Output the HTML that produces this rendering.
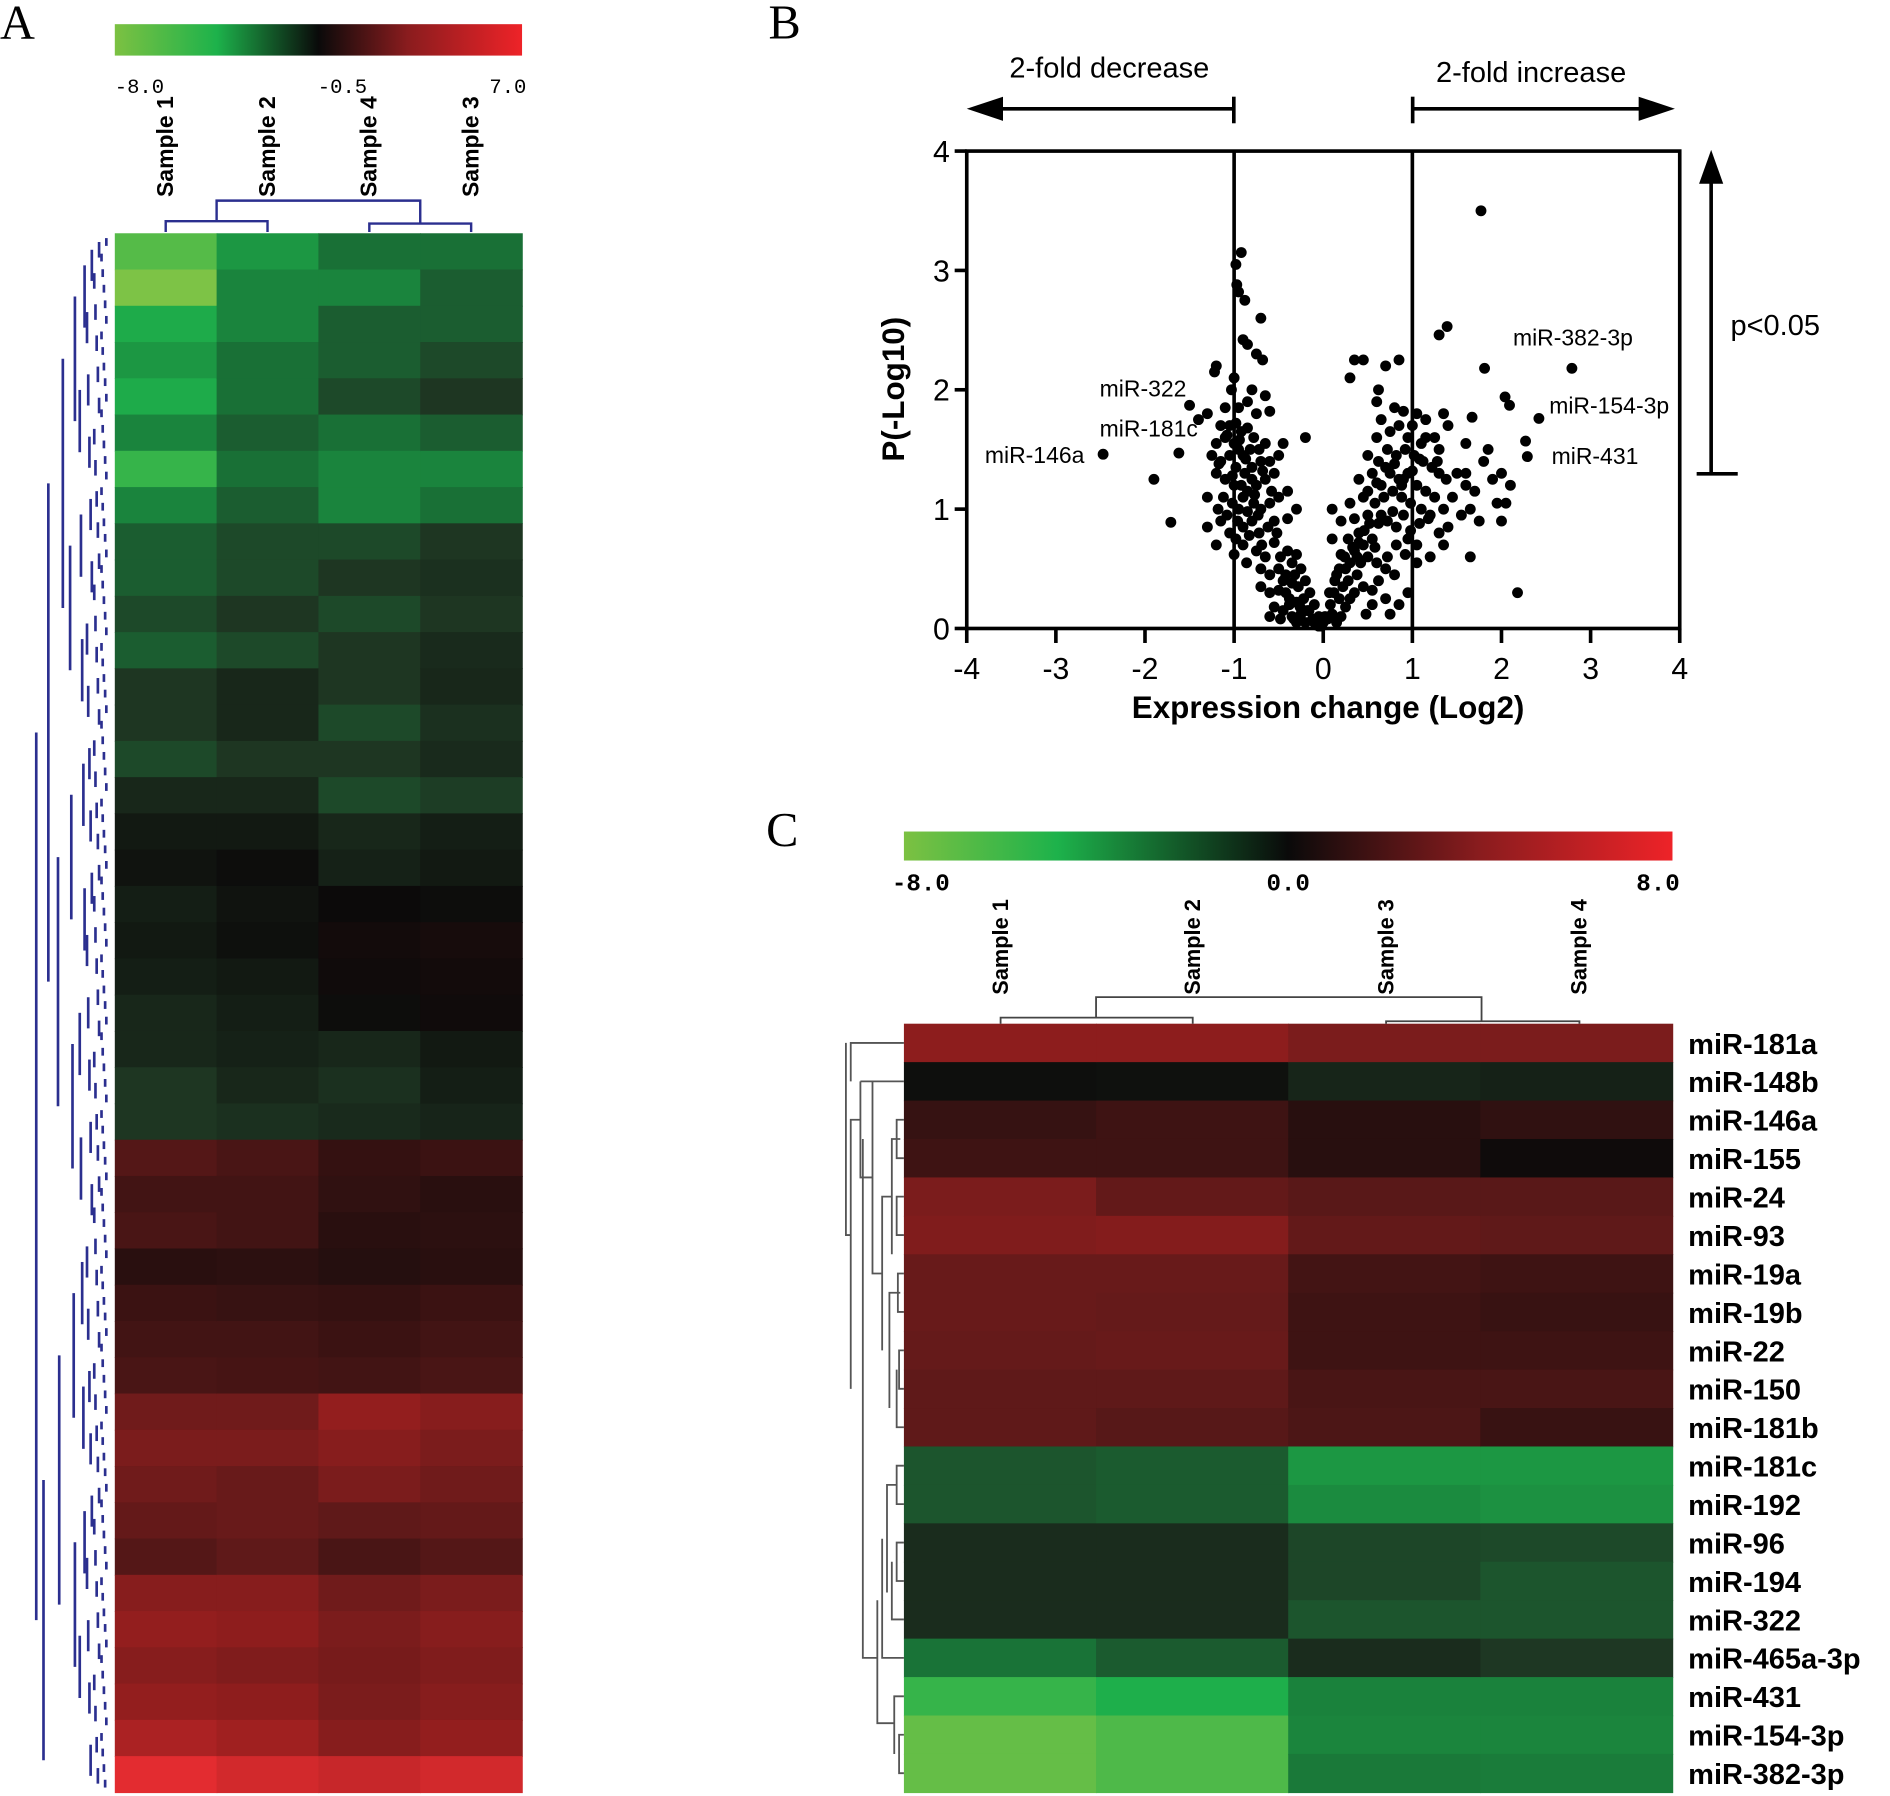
<!DOCTYPE html>
<html><head><meta charset="utf-8"><style>
html,body{margin:0;padding:0;background:#fff;}
svg{display:block;font-family:"Liberation Sans",Arial,sans-serif;}
</style></head><body>
<svg id="fig" width="1890" height="1796" viewBox="0 0 1564 1486" preserveAspectRatio="none" xmlns="http://www.w3.org/2000/svg">
<defs>
<linearGradient id="gA" x1="0" x2="1" y1="0" y2="0">
<stop offset="0" stop-color="#7cc142"/><stop offset="0.25" stop-color="#1db24b"/><stop offset="0.5" stop-color="#0a0a0a"/><stop offset="0.72" stop-color="#8a1c1e"/><stop offset="1" stop-color="#ee2328"/>
</linearGradient>
<linearGradient id="gC" x1="0" x2="1" y1="0" y2="0">
<stop offset="0" stop-color="#7cc142"/><stop offset="0.2" stop-color="#1db24b"/><stop offset="0.5" stop-color="#0a0a0a"/><stop offset="0.75" stop-color="#8a1c1e"/><stop offset="1" stop-color="#ee2328"/>
</linearGradient>
</defs>
<text x="0" y="32" font-family="Liberation Serif,serif" font-size="40">A</text>
<text x="636" y="32" font-family="Liberation Serif,serif" font-size="40">B</text>
<text x="634" y="700" font-family="Liberation Serif,serif" font-size="40">C</text>
<g id="A"></g>
<g id="B"></g>
<g id="C"></g>
</svg>
<script>
// ---------- Panel A data ----------
const aSamples = ["Sample 1","Sample 2","Sample 4","Sample 3"];
const aCol1 = [-6,-7,-5,-4.5,-5,-4,-5.5,-4,-3,-3,-2.5,-3,-2,-2,-2.5,-1.5, -1,-0.8,-1.2,-1,-1.2,-1.5,-1.5,-2,-2, 1.5,1,1.2,0.3,0.8,1,1.2, 2.5,3,2.5,2,1.5,3.5,4,3.5,4,4.5,5.5];
const aCol2 = [-4.5,-4,-4,-3.5,-3.5,-3,-3.5,-3,-2.5,-2.5,-2,-2.5,-1.5,-1.5,-2,-1.5, -1,-0.6,-0.8,-0.7,-1,-1.2,-1.3,-1.5,-1.8, 1.2,1,1,0.4,0.7,1,1.1, 2.5,3,2.2,2.2,1.8,3.5,3.8,3.2,3.8,4.3,5.2];
const aCol3 = [-3.5,-4,-3,-3,-2.5,-3.5,-4,-4,-2.5,-2,-2.5,-2,-2,-2.5,-2,-2.5, -1.5,-1.3,-0.5,-0.3,-0.4,-0.6,-1.5,-1.8,-1.6, 0.6,0.5,0.3,0.2,0.6,0.8,1, 4,3.5,3,1.8,1.2,2.5,3,2.8,3,3.5,5];
const aCol4 = [-3.5,-3,-3,-2.5,-2,-3,-4,-3.5,-2,-1.8,-2,-1.6,-1.5,-1.8,-1.6,-2.2, -1.2,-1,-0.6,-0.2,-0.3,-0.4,-1,-1.2,-1.4, 0.8,0.3,0.4,0.3,0.8,1,1.2, 3.5,3,2.5,2,1.5,3,3.5,3.2,3.5,4,5.2];
const aScaleTicks = ["-8.0","-0.5","7.0"];
// ---------- Panel B data ----------
const volcanoX = [-0.98,-0.92,-0.97,-0.95,-0.88,-0.7,-0.9,-0.85,-0.75,-0.68,-1.2,-1.22,-1.0,-1.03,-0.8,-0.65,-1.1,-0.95,-0.85,-0.75,-0.6,-1.3,-1.4,
-1.15,-1.05,-0.98,-0.92,-0.85,-0.78,-1.2,-1.1,-1.0,-0.95,-0.9,-0.82,-0.72,-0.65,-1.25,-1.15,-1.05,-0.98,-0.88,-0.8,-0.7,-0.6,-0.5,-0.45,-1.2,-1.1,-1.0,-0.92,-0.85,-0.75,-0.65,-0.55,-0.5,-1.12,-1.02,-0.95,-0.85,-0.78,-0.7,-0.6,-1.3,-1.3,-1.15,-1.05,-0.9,-0.8,-0.72,-0.62,-0.55,-1.2,-1.0,-0.9,-0.4,-0.3,-0.4,
-0.75,-0.65,-0.55,-0.48,-0.7,-0.6,-0.5,-0.42,-0.35,-0.3,-0.25,-0.7,-0.6,-0.5,-0.42,-0.35,-0.28,-0.2,-0.55,-0.45,-0.38,-0.3,-0.22,-0.15,-0.6,-0.48,-0.35,-0.25,-0.18,-0.1,-0.3,-0.2,-0.12,-0.05,-0.08,-0.02,0.0,
0.05,0.1,0.08,0.15,0.2,0.18,0.12,0.25,0.3,0.22,0.28,0.35,0.15,0.25,0.38,0.3,0.45,0.42,0.2,0.35,0.5,0.1,0.28,0.4,0.55,0.6,0.7,0.8,0.85,0.7,0.55,0.75,0.48,0.2,0.35,0.5,0.62,0.72,0.82,0.9,0.95,1.05,0.1,0.3,0.45,0.58,0.68,0.78,0.88,0.98,1.1,1.2,0.4,0.55,0.65,0.75,0.85,0.95,1.05,1.15,1.25,1.35,0.5,0.62,0.72,0.82,0.92,1.02,1.12,1.22,1.3,0.6,0.75,0.85,0.95,1.05,1.15,1.25,0.8,0.65,0.9,0.7,0.62,0.85,0.6,1.0,1.1,0.35,0.45,0.3,-0.2,1.5,1.45,1.38,1.6,1.7,1.55,1.4,1.65,1.75,1.65,1.3,1.2,1.35,0.95,1.05,1.8,1.9,2.0,1.95,2.05,2.1,1.4,1.3,1.35,1.6,1.85,2.0,1.6,
-1.08,-0.94,-0.87,-0.8,-1.17,-1.02,-0.9,-0.77,-0.68,-1.08,-0.96,-0.83,-0.73,-0.58,-1.18,-0.98,-0.86,-0.69,-0.52,-0.45,-0.38,-0.32,-0.26,-0.4,-0.33,-0.16,-0.1,-0.05,0.02,0.07,0.13,0.18,0.24,0.33,0.4,0.46,0.52,0.58,0.65,0.78,0.88,0.5,0.6,0.7,0.8,0.9,1.0,1.08,1.15,0.92,0.82,0.72,0.62,0.55,0.98,1.08,1.18,1.28,0.45,0.38,
-2.47,-1.9,-1.71,-1.5,-1.62,1.77,1.39,1.3,2.79,1.81,2.04,2.09,2.42,2.27,2.29,2.18,1.67];
const volcanoY = [3.05,3.15,2.88,2.82,2.75,2.6,2.42,2.38,2.3,2.25,2.2,2.15,2.1,2.0,2.0,1.95,1.85,1.85,1.9,1.8,1.82,1.8,1.75,
1.7,1.7,1.72,1.65,1.68,1.6,1.55,1.6,1.55,1.5,1.45,1.5,1.5,1.55,1.45,1.4,1.45,1.35,1.3,1.35,1.4,1.4,1.45,1.55,1.3,1.25,1.2,1.2,1.15,1.2,1.25,1.3,1.1,1.1,1.05,1.0,0.98,1.05,1.0,1.05,1.1,0.85,0.9,0.8,0.85,0.9,0.8,0.85,0.9,0.7,0.62,0.7,0.92,1.0,1.15,
0.65,0.6,0.72,0.6,0.5,0.45,0.5,0.45,0.55,0.62,0.5,0.35,0.3,0.32,0.3,0.38,0.35,0.4,0.18,0.15,0.2,0.22,0.25,0.3,0.1,0.08,0.1,0.12,0.15,0.2,0.05,0.05,0.08,0.1,0.03,0.02,0.05,
0.08,0.12,0.2,0.05,0.1,0.25,0.3,0.18,0.25,0.35,0.4,0.3,0.45,0.5,0.45,0.55,0.35,0.55,0.62,0.65,0.6,0.75,0.75,0.8,0.75,0.55,0.5,0.45,0.2,0.25,0.2,0.12,0.12,0.9,0.92,0.95,0.88,0.9,0.85,0.95,0.75,0.7,1.0,1.05,1.1,1.05,1.1,1.15,1.1,1.05,1.0,0.95,1.25,1.3,1.2,1.3,1.25,1.3,1.2,1.15,1.1,1.0,1.45,1.4,1.5,1.45,1.5,1.45,1.4,1.35,1.3,1.6,1.65,1.7,1.6,1.8,1.75,1.6,1.85,1.75,1.82,2.2,2.0,2.25,1.9,1.7,1.55,2.25,2.25,2.1,1.6,1.3,1.1,1.25,1.2,1.15,0.95,0.85,1.0,0.9,0.6,0.8,0.6,0.7,0.3,0.55,1.4,1.25,1.3,1.05,1.05,1.2,1.7,1.5,1.8,1.55,1.5,0.9,1.3,
1.62,1.58,1.42,1.25,1.38,1.28,1.1,1.12,1.32,0.95,0.9,0.78,0.95,1.15,1.0,0.75,0.55,0.7,0.8,0.4,0.25,0.45,0.18,0.65,0.08,0.15,0.05,0.02,0.1,0.3,0.4,0.5,0.6,0.68,0.72,0.82,0.88,0.68,0.95,0.98,1.2,1.15,1.22,1.35,1.38,1.25,1.32,1.42,1.6,0.62,0.7,0.6,0.4,0.32,0.82,0.88,0.92,1.4,0.7,0.6,
1.46,1.25,0.89,1.87,1.47,3.5,2.53,2.46,2.18,2.18,1.94,1.87,1.76,1.57,1.44,0.3,1.77];
const volcanoXTicks = [-4,-3,-2,-1,0,1,2,3,4];
const volcanoYTicks = [0,1,2,3,4];
// ---------- Panel C data ----------
const cSamples = ["Sample 1","Sample 2","Sample 3","Sample 4"];
const cGenes = ["miR-181a","miR-148b","miR-146a","miR-155","miR-24","miR-93","miR-19a","miR-19b","miR-22","miR-150","miR-181b","miR-181c","miR-192","miR-96","miR-194","miR-322","miR-465a-3p","miR-431","miR-154-3p","miR-382-3p"];
const cS1 = [5.5,-0.2,1.5,1.8,4.5,4.8,3.5,3.5,3.3,3,3,-3,-3,-1.5,-1.5,-1.5,-4,-6.5,-7.5,-7.5];
const cS2 = [5.5,-0.3,1.8,1.8,3.2,5,3.5,3.3,3.5,3,2.7,-3.2,-3.2,-1.5,-1.5,-1.5,-3.2,-6,-7,-7];
const cS3 = [4.5,-1.2,1,1,2.8,3.2,2,1.8,1.8,2.2,2.3,-5.2,-4.8,-2.5,-2.5,-3,-1.5,-4.5,-4.6,-4.2];
const cS4 = [4.5,-1,1.3,0.1,2.8,3,1.8,1.6,1.8,2.2,1.6,-5.2,-5,-2.6,-3,-3,-2,-4.5,-4.6,-4.3];
const cScaleTicks = ["-8.0","0.0","8.0"];

const NS="http://www.w3.org/2000/svg";
function mk(tag,attrs,parent,txt){const e=document.createElementNS(NS,tag);for(const k in attrs)e.setAttribute(k,attrs[k]);if(txt!==undefined)e.textContent=txt;parent.appendChild(e);return e;}
const stops=[[-8,[125,195,70]],[-6,[30,175,75]],[-4,[25,115,55]],[-2,[30,55,35]],[0,[12,10,10]],[3,[95,25,25]],[6,[150,30,30]],[8,[235,45,50]]];
function color(v){v=Math.max(-8,Math.min(8,v));for(let i=0;i<stops.length-1;i++){const a=stops[i],b=stops[i+1];if(v<=b[0]){const t=(v-a[0])/(b[0]-a[0]);const c=a[1].map((x,j)=>Math.round(x+(b[1][j]-x)*t));return `rgb(${c})`;}}return "rgb(235,45,50)";}

// ---------- Panel A ----------
(function(){
const g=document.getElementById('A');
const x0=95,x1=432,y0=193,y1=1483;
const cols=[aCol1,aCol2,aCol3,aCol4];
const cw=(x1-x0)/cols.length, rh=(y1-y0)/aCol1.length;
const bar=mk('rect',{x:95,y:20,width:337,height:26,fill:'url(#gA)'},g);


const tx=[95,263,405];
aScaleTicks.forEach((t,i)=>{const e=mk('text',{x:tx[i],y:77,'font-size':17,'font-family':'Liberation Mono,monospace'},g,t);

});
cols.forEach((col,ci)=>{col.forEach((v,ri)=>{const r=mk('rect',{x:x0+ci*cw,y:y0+ri*rh,width:cw+0.6,height:rh+0.6,fill:color((v+0.5)*1.3)},g);

});});
aSamples.forEach((s,i)=>{const cx=x0+cw*(i+0.5)+6;const t=mk('text',{transform:`translate(${cx},163) rotate(-90)`,'font-size':19,'font-weight':'bold','text-anchor':'start'},g,s);

});
const blue='#2b2f8f';
const cx=i=>x0+cw*(i+0.5);
const d=`M${cx(0)},192V183H${cx(1)}V192 M${cx(2)},192V185H${cx(3)}V192 M${(cx(0)+cx(1))/2},183V166H${(cx(2)+cx(3))/2}V185`;
const cd=mk('path',{d:d,fill:'none',stroke:blue,'stroke-width':2},g);


const rg=mk('g',{stroke:blue,'stroke-width':2.2,fill:'none'},g);


let nodes=[];const n=200;for(let i=0;i<n;i++){nodes.push({y:y0+4+i*(y1-y0-8)/(n-1),x:93});}
const lx=[88,82,76,70,62,52,40,30,20,14];
let lvl=0;
while(nodes.length>1&&lvl<lx.length){const next=[];for(let i=0;i<nodes.length;i+=2){if(i+1<nodes.length){const a=nodes[i],b=nodes[i+1];const X=lx[lvl]-((i*7)%5);mk('path',{d:`M${X},${a.y}V${b.y}`},rg);next.push({y:(a.y+b.y)/2,x:X});}else next.push(nodes[i]);}nodes=next;lvl++;}
})();

// ---------- Panel B ----------
(function(){
const g=document.getElementById('B');
const L=800,R=1390,T=125,Bt=520;
const sx=v=>L+(v+4)/8*(R-L), sy=v=>Bt-v/4*(Bt-T);
const frame=mk('rect',{x:L,y:T,width:R-L,height:Bt-T,fill:'none',stroke:'#000','stroke-width':3},g);


[-1,1].forEach(v=>{const l=mk('line',{x1:sx(v),x2:sx(v),y1:T,y2:Bt,stroke:'#000','stroke-width':3},g);

});
volcanoXTicks.forEach(v=>{mk('line',{x1:sx(v),x2:sx(v),y1:Bt,y2:Bt+12,stroke:'#000','stroke-width':3},g);
const t=mk('text',{x:sx(v),y:Bt+42,'font-size':25,'text-anchor':'middle'},g,String(v));

});
volcanoYTicks.forEach(v=>{mk('line',{x1:L-10,x2:L,y1:sy(v),y2:sy(v),stroke:'#000','stroke-width':3},g);
const t=mk('text',{x:L-14,y:sy(v)+9,'font-size':25,'text-anchor':'end'},g,String(v));

});
volcanoX.forEach((x,i)=>{const c=mk('circle',{cx:sx(x),cy:sy(volcanoY[i]),r:4.5,fill:'#000'},g);

});
const xt=mk('text',{x:1099,y:594,'font-size':26,'font-weight':'bold','text-anchor':'middle'},g,'Expression change (Log2)');


const yt=mk('text',{transform:'translate(748,322) rotate(-90)','font-size':26,'font-weight':'bold','text-anchor':'middle'},g,'P(-Log10)');


const ann=[["miR-322",910,328],["miR-181c",910,361],["miR-146a",815,383],["miR-382-3p",1252,286],["miR-154-3p",1282,342],["miR-431",1284,384]];
ann.forEach(a=>{const t=mk('text',{x:a[1],y:a[2],'font-size':19},g,a[0]);

});
const ar=mk('g',{stroke:'#000','stroke-width':3,fill:'#000'},g);


mk('line',{x1:822,x2:1021,y1:90,y2:90},ar);mk('line',{x1:1021,x2:1021,y1:80,y2:102},ar);
mk('path',{d:'M800,90L830,80L830,100Z','stroke-width':0},ar);
mk('line',{x1:1169,x2:1362,y1:90,y2:90},ar);mk('line',{x1:1169,x2:1169,y1:80,y2:102},ar);
mk('path',{d:'M1386,90L1356,80L1356,100Z','stroke-width':0},ar);
mk('line',{x1:1416,x2:1416,y1:150,y2:392},ar);mk('line',{x1:1404,x2:1438,y1:392,y2:392},ar);
mk('path',{d:'M1416,124L1406,152L1426,152Z','stroke-width':0},ar);
const t1=mk('text',{x:918,y:64,'font-size':24,'text-anchor':'middle'},g,'2-fold decrease');


const t2=mk('text',{x:1267,y:68,'font-size':24,'text-anchor':'middle'},g,'2-fold increase');


const t3=mk('text',{x:1432,y:277,'font-size':24},g,'p<0.05');


})();

// ---------- Panel C ----------
(function(){
const g=document.getElementById('C');
const x0=748,x1=1384,y0=847,y1=1483;
const cols=[cS1,cS2,cS3,cS4];
const cw=(x1-x0)/4, rh=(y1-y0)/cGenes.length;
const bar=mk('rect',{x:748,y:688,width:636,height:24,fill:'url(#gC)'},g);


const tx=[762,1066,1372];
cScaleTicks.forEach((t,i)=>{const e=mk('text',{x:tx[i],y:737,'font-size':20,'font-weight':'bold','text-anchor':'middle','font-family':'Liberation Mono,monospace'},g,t);

});
cols.forEach((col,ci)=>{col.forEach((v,ri)=>{const r=mk('rect',{x:x0+ci*cw,y:y0+ri*rh,width:cw+0.6,height:rh+0.6,fill:color(v)},g);

});});
cGenes.forEach((s,i)=>{const t=mk('text',{x:1397,y:y0+rh*(i+0.5)+9,'font-size':24,'font-weight':'bold'},g,s);

});
const cxs=[828,987,1147,1307];
cSamples.forEach((s,i)=>{const t=mk('text',{transform:`translate(${cxs[i]+6},823) rotate(-90)`,'font-size':18,'font-weight':'bold'},g,s);

});
const cd=mk('path',{d:'M828,847V842H987V847 M1147,847V845H1307V847 M907,842V825H1226V845',fill:'none',stroke:'#444','stroke-width':1.5},g);


const ry=i=>y0+rh*(i+0.5);
const rd='M748,'+ry(0)+'H704V'+ry(1)+' M748,'+ry(1)+'H712 '+
'M748,'+ry(2)+'H742V'+ry(3)+'H748 M745,'+ry(2.5)+'H738V'+ry(5.5)+' M748,'+ry(4)+'H742V'+ry(5)+'H748 '+
'M748,'+ry(6)+'H743V'+ry(7)+'H748 M748,'+ry(8)+'H744V'+ry(9)+'H748 M748,'+ry(10)+'H742V'+ry(8.5)+' M745,'+ry(6.5)+'H736V'+ry(9.5)+' M738,'+ry(4)+'H730V'+ry(8)+' M730,'+ry(6)+'H722V'+ry(1)+' M722,'+ry(3.5)+'H712V'+ry(1)+' '+
'M748,'+ry(11)+'H742V'+ry(12)+'H748 M748,'+ry(13)+'H742V'+ry(14)+'H748 M748,'+ry(15)+'H738V'+ry(13.5)+' M742,'+ry(11.5)+'H734V'+ry(14.3)+' M748,'+ry(16)+'H730V'+ry(12.9)+' M748,'+ry(17)+'H740V'+ry(18.5)+' M748,'+ry(18)+'H744V'+ry(19)+'H748 M740,'+ry(17.7)+'H726V'+ry(14.5)+' M726,'+ry(16)+'H714V'+ry(2.5)+' M712,'+ry(2)+'H704V'+ry(9)+' M704,'+ry(5)+'H700V'+ry(0);
const rdp=mk('path',{d:rd,fill:'none',stroke:'#555','stroke-width':1.5},g);


})();
</script>
</body></html>
